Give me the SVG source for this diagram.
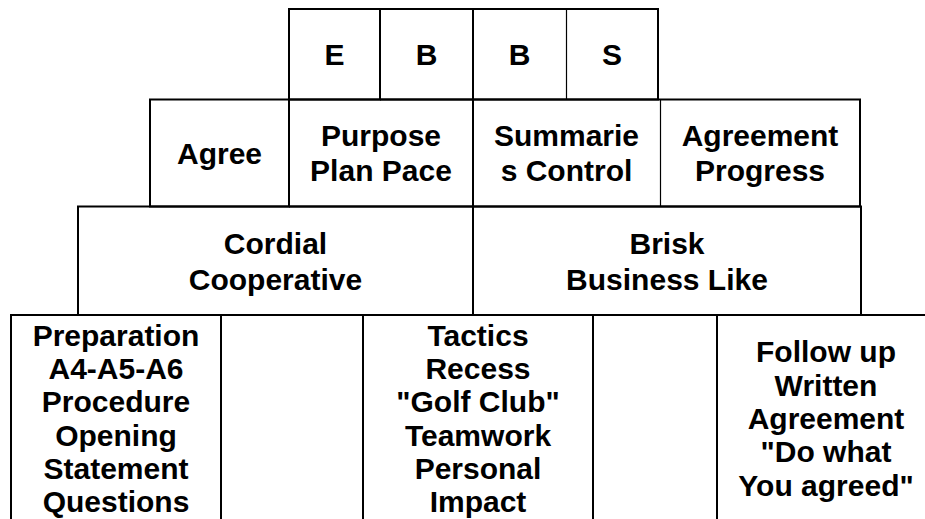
<svg xmlns="http://www.w3.org/2000/svg" width="925" height="519" viewBox="0 0 925 519">
<style>
.b{fill:none;stroke:#000;stroke-width:2}
.t{fill:none;stroke:#000;stroke-width:1.2}
text{font-family:"Liberation Sans",Arial,sans-serif;font-weight:bold;font-size:30px;text-anchor:middle;fill:#000}
</style>
<rect width="925" height="519" fill="#fff"/>
<g id="cell-E"><rect class="b" x="289" y="9" width="91" height="90.5"/><text x="334.5" y="64.5">E</text></g>
<g id="cell-B1"><path class="b" d="M380,9H473V99.5H380"/><text x="426.5" y="64.5">B</text></g>
<g id="cell-B2"><path class="b" d="M473,9H566M473,99.5H566"/><text x="519.5" y="64.5">B</text></g>
<g id="cell-S"><path class="b" d="M566,9H658V99.5H566"/><path class="t" d="M566.5,9V99.5"/><text x="612" y="64.5">S</text></g>

<g id="agree"><rect class="b" x="150" y="99.5" width="139" height="107"/><text x="219.5" y="164">Agree</text></g>
<g id="purpose"><path class="b" d="M289,99.5H473V206.5H289"/><text x="381" y="145.5">Purpose</text><text x="381" y="180.5">Plan Pace</text></g>
<g id="summaries"><path class="b" d="M473,99.5H660M473,206.5H660"/><text x="566.5" y="145.5">Summarie</text><text x="566.5" y="180.5">s Control</text></g>
<g id="agreement"><path class="b" d="M660,99.5H860V206.5H660"/><path class="t" d="M660.5,99.5V206.5"/><text x="760" y="145.5">Agreement</text><text x="760" y="180.5">Progress</text></g>

<g id="cordial"><rect class="b" x="78" y="206.5" width="395" height="108.5"/><text x="275.5" y="254">Cordial</text><text x="275.5" y="289.5">Cooperative</text></g>
<g id="brisk"><path class="b" d="M473,206.5H861V315H473"/><text x="667" y="254">Brisk</text><text x="667" y="289.5">Business Like</text></g>

<g id="preparation"><path class="b" d="M11,530V315H221V530"/>
<text x="116" y="345.5">Preparation</text><text x="116" y="378.8">A4-A5-A6</text><text x="116" y="412.2">Procedure</text><text x="116" y="445.5">Opening</text><text x="116" y="478.8">Statement</text><text x="116" y="512.2">Questions</text></g>
<g id="blank-1"><path class="b" d="M221,315H363V530"/></g>
<g id="tactics"><path class="b" d="M363,315H593V530"/>
<text x="478" y="345.5">Tactics</text><text x="478" y="378.8">Recess</text><text x="478" y="412.2">"Golf Club"</text><text x="478" y="445.5">Teamwork</text><text x="478" y="478.8">Personal</text><text x="478" y="512.2">Impact</text></g>
<g id="blank-2"><path class="b" d="M593,315H717V530"/></g>
<g id="follow-up"><path class="b" d="M717,315H940"/>
<text x="826" y="362.2">Follow up</text><text x="826" y="395.5">Written</text><text x="826" y="428.8">Agreement</text><text x="826" y="462.2">"Do what</text><text x="826" y="495.5">You agreed"</text></g>
</svg>
